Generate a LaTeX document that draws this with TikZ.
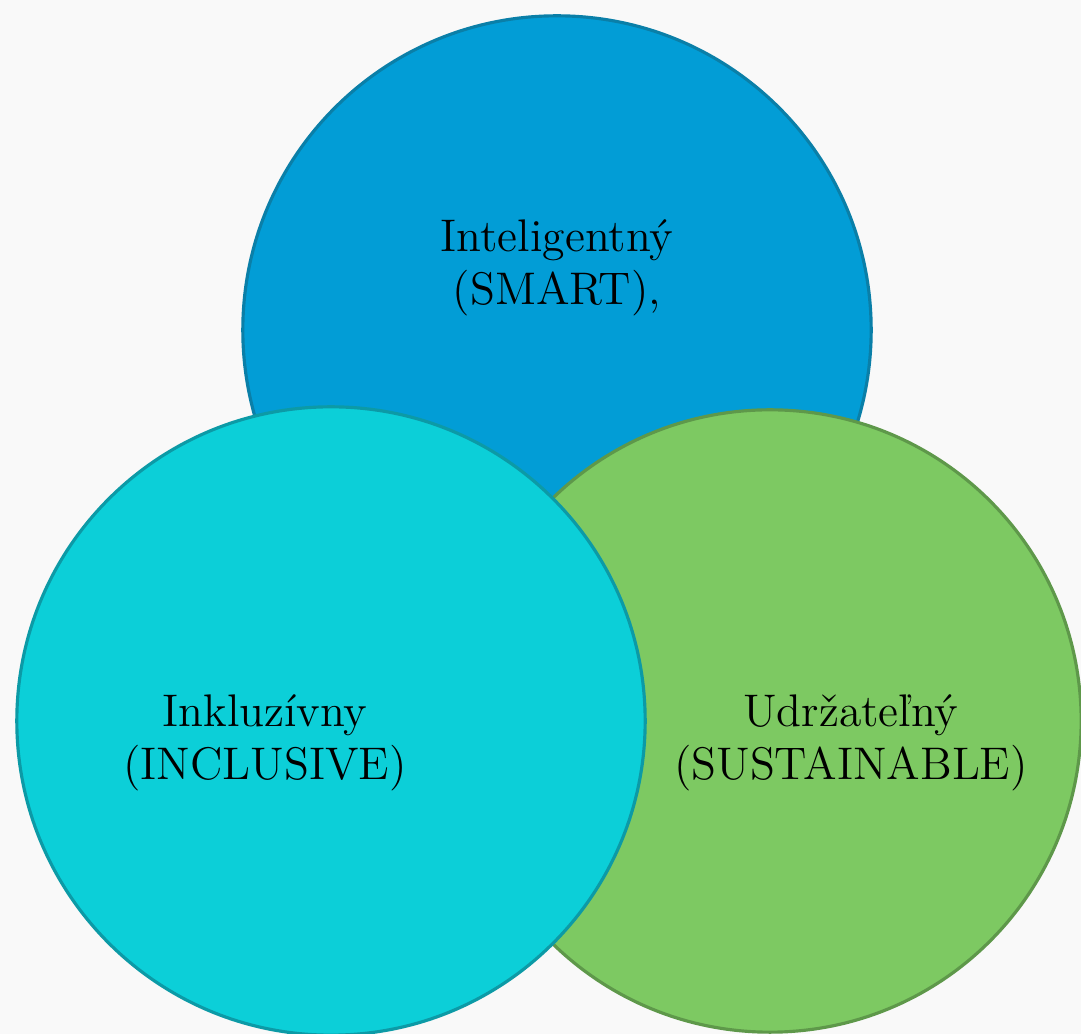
\documentclass[tikz,border=0pt]{standalone}
\usepackage{fontspec}
\usepackage{xcolor}
\usepackage{tikz}

\definecolor{paper}{HTML}{F9F9F9}
\definecolor{smartfill}{HTML}{029DD6}
\definecolor{smartline}{HTML}{0A7FA8}
\definecolor{inclfill}{HTML}{0CCFD8}
\definecolor{inclline}{HTML}{0C9AA6}
\definecolor{sustfill}{HTML}{7DC962}
\definecolor{sustline}{HTML}{5E984A}

\begin{document}
\begin{tikzpicture}[x=0.01cm, y=-0.01cm,
    ring/.style={circle, draw, line width=0.9pt, inner sep=0pt, minimum size=6.28cm},
    word/.style={align=center, text=black, font=\fontsize{13}{15}\selectfont}]
  \fill[paper] (0,0) rectangle (1081,1034);
  \useasboundingbox (0,0) rectangle (1081,1034);
  \node[ring, fill=smartfill, draw=smartline] (smart) at (557,330) {};
  \node[ring, fill=sustfill, draw=sustline, minimum size=6.22cm] (sust) at (770,721) {};
  \node[ring, fill=inclfill, draw=inclline] (incl) at (331,721) {};
  \node[word] (smarttext) at (557,268) {Inteligentný\\(SMART),};
  \node[word] (incltext) at (265,743) {Inkluzívny\\(INCLUSIVE)};
  \node[word] (susttext) at (851,743) {Udržateľný\\(SUSTAINABLE)};
\end{tikzpicture}
\end{document}
